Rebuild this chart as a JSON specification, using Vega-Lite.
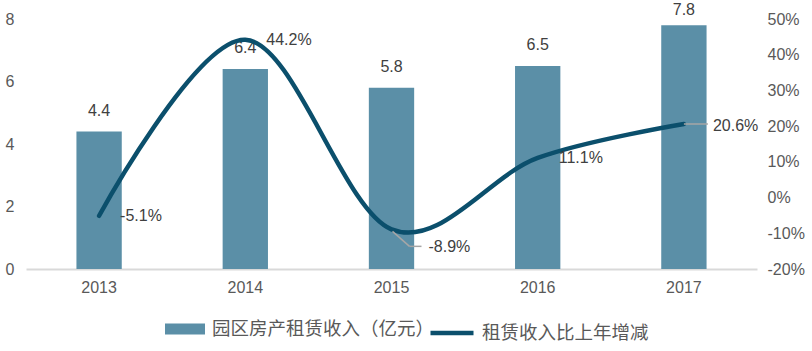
{
  "$schema": "https://vega.github.io/schema/vega-lite/v6.json",
  "width": 731,
  "height": 250,
  "autosize": "none",
  "padding": {"left": 26, "top": 19, "right": 55, "bottom": 82},
  "background": "white",
  "config": {
    "view": {"stroke": null},
    "axis": {"labelFont": "Liberation Sans", "labelFontSize": 16, "labelColor": "#595959", "ticks": false, "grid": false, "title": null},
    "text": {"font": "Liberation Sans", "fontSize": 16},
    "legend": {"labelFont": "Noto Sans CJK SC", "labelFontSize": 18.5, "labelColor": "#595959", "title": null, "padding": 0, "labelLimit": 400}
  },
  "data": {
    "values": [
      {"year": "2013", "revenue": 4.4, "growth": -5.1},
      {"year": "2014", "revenue": 6.4, "growth": 44.2},
      {"year": "2015", "revenue": 5.8, "growth": -8.9},
      {"year": "2016", "revenue": 6.5, "growth": 11.1},
      {"year": "2017", "revenue": 7.8, "growth": 20.6}
    ]
  },
  "encoding": {
    "x": {
      "field": "year",
      "type": "ordinal",
      "scale": {"paddingInner": 0.69, "paddingOuter": 0.345},
      "axis": {"labelAngle": 0, "domainColor": "#D9D9D9", "domainWidth": 2, "labelPadding": 10}
    }
  },
  "layer": [
    {
      "encoding": {
        "y": {
          "field": "revenue",
          "type": "quantitative",
          "scale": {"domain": [0, 8]},
          "axis": {"values": [0, 2, 4, 6, 8], "domain": false, "labelPadding": 12, "orient": "left"}
        }
      },
      "layer": [
        {
          "mark": {"type": "bar"},
          "encoding": {
            "fill": {
              "datum": "园区房产租赁收入（亿元）",
              "scale": {"range": ["#5B8FA7"]},
              "legend": {
                "orient": "none",
                "legendX": 139,
                "legendY": 290,
                "symbolType": "M-1,-0.27L1,-0.27L1,0.27L-1,0.27Z",
                "symbolSize": 1600,
                "symbolStrokeWidth": 0,
                "symbolOpacity": 1,
                "labelOffset": 7
              }
            }
          }
        },
        {
          "transform": [{"filter": "datum.year != '2017'"}],
          "mark": {"type": "text", "baseline": "alphabetic", "dy": -16, "color": "#404040"},
          "encoding": {"text": {"field": "revenue", "type": "quantitative", "format": ".1f"}}
        },
        {
          "transform": [{"filter": "datum.year == '2017'"}],
          "mark": {"type": "text", "baseline": "alphabetic", "dy": -10, "color": "#404040"},
          "encoding": {"text": {"field": "revenue", "type": "quantitative", "format": ".1f"}}
        }
      ]
    },
    {
      "encoding": {
        "y": {
          "field": "growth",
          "type": "quantitative",
          "scale": {"domain": [-20, 50]},
          "axis": {"orient": "right", "values": [-20, -10, 0, 10, 20, 30, 40, 50], "domain": false, "labelPadding": 10, "labelExpr": "datum.value + '%'"}
        }
      },
      "layer": [
        {
          "mark": {"type": "line", "interpolate": "cardinal", "strokeWidth": 4.5, "strokeCap": "round"},
          "encoding": {
            "stroke": {
              "datum": "租赁收入比上年增减",
              "scale": {"range": ["#0B4F6C"]},
              "legend": {
                "orient": "none",
                "legendX": 402,
                "legendY": 290,
                "symbolType": "stroke",
                "symbolSize": 1849,
                "symbolStrokeWidth": 4.5,
                "labelOffset": 6
              }
            }
          }
        },
        {
          "transform": [{"filter": "datum.year == '2017'"}],
          "mark": {"type": "rule", "color": "#A6A6A6", "strokeWidth": 1.5, "x2Offset": 24},
          "encoding": {"x2": {"field": "year"}}
        },
        {
          "transform": [{"filter": "datum.year == '2015'"}],
          "mark": {"type": "rule", "color": "#A6A6A6", "strokeWidth": 1.5, "xOffset": 1, "yOffset": 2, "x2Offset": 18, "y2Offset": 17},
          "encoding": {"x2": {"field": "year"}, "y2": {"field": "growth"}}
        },
        {
          "transform": [{"filter": "datum.year == '2015'"}],
          "mark": {"type": "rule", "color": "#A6A6A6", "strokeWidth": 1.5, "xOffset": 18, "yOffset": 17, "x2Offset": 30, "y2Offset": 17},
          "encoding": {"x2": {"field": "year"}, "y2": {"field": "growth"}}
        },
        {
          "transform": [
            {"filter": "datum.year != '2015' && datum.year != '2017'"},
            {"calculate": "datum.growth + '%'", "as": "label"}
          ],
          "mark": {"type": "text", "align": "left", "baseline": "middle", "dx": 21, "color": "#404040"},
          "encoding": {"text": {"field": "label"}}
        },
        {
          "transform": [
            {"filter": "datum.year == '2015'"},
            {"calculate": "datum.growth + '%'", "as": "label"}
          ],
          "mark": {"type": "text", "align": "left", "baseline": "middle", "dx": 37, "dy": 18, "color": "#404040"},
          "encoding": {"text": {"field": "label"}}
        },
        {
          "transform": [
            {"filter": "datum.year == '2017'"},
            {"calculate": "datum.growth + '%'", "as": "label"}
          ],
          "mark": {"type": "text", "align": "left", "baseline": "middle", "dx": 29, "dy": 2, "color": "#404040"},
          "encoding": {"text": {"field": "label"}}
        }
      ]
    }
  ],
  "resolve": {"scale": {"y": "independent", "fill": "independent", "stroke": "independent"}}
}
